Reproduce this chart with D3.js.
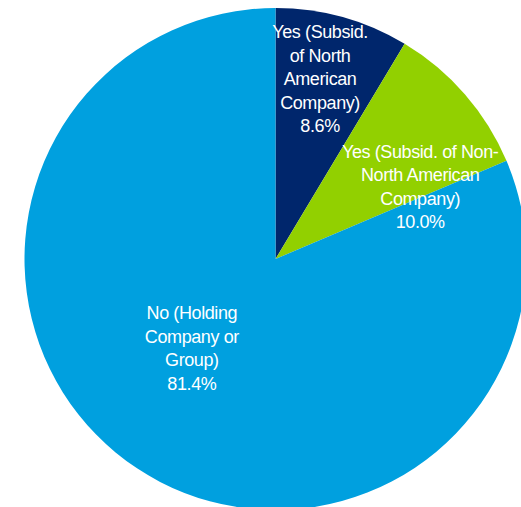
<!DOCTYPE html>
<html>
<head>
<meta charset="utf-8">
<script src="https://cdn.jsdelivr.net/npm/d3@7"></script>
<style>
  html, body { margin: 0; padding: 0; background: #fff; overflow: hidden; }
  svg { display: block; }
  text { font-family: "Liberation Sans", Arial, sans-serif; font-size: 18px; fill: #fff; letter-spacing: -0.4px; }
</style>
</head>
<body>
<svg id="chart" width="521" height="507"></svg>
<script>
// Is the company a subsidiary? — share of respondents
const categories = [
  ["Yes (Subsid.", "of North", "American", "Company)"],
  ["Yes (Subsid. of Non-", "North American", "Company)"],
  ["No (Holding", "Company or", "Group)"]
];
const shares = [8.6, 10.0, 81.4];
const valueLabels = ["8.6%", "10.0%", "81.4%"];
const colors = ["#00266C", "#92D000", "#00A0DF"];

const width = 521, height = 507;
const cx = 275.5, cy = 259, radius = 251;

// label placement: distance from centre (fraction of radius) and angular nudge (degrees)
const labelPlacement = [
  { r: 0.74, dAngle: -1.6 },
  { r: 0.645, dAngle: 14.4 },
  { r: 0.487, dAngle: 9.7 }
];
const lineHeight = 23.6;

const svg = d3.select("#chart");
const g = svg.append("g").attr("transform", `translate(${cx},${cy})`);

const pie = d3.pie().sort(null).value(d => d)(shares);
const arc = d3.arc().innerRadius(0).outerRadius(radius);

g.selectAll("path.slice")
  .data(pie)
  .join("path")
  .attr("class", "slice")
  .attr("d", arc)
  .attr("fill", (d, i) => colors[i]);

const labels = g.selectAll("text.lbl")
  .data(pie)
  .join("text")
  .attr("class", "lbl")
  .attr("text-anchor", "middle")
  .each(function (d, i) {
    const p = labelPlacement[i];
    const a = (d.startAngle + d.endAngle) / 2 + p.dAngle * Math.PI / 180;
    const rr = radius * p.r;
    const x = Math.sin(a) * rr;
    const y = -Math.cos(a) * rr;
    const lines = categories[i].concat([valueLabels[i]]);
    const n = lines.length;
    // vertically centre the block: first baseline offset so cap-top..last baseline is centred
    const capH = 13;
    const blockH = capH + (n - 1) * lineHeight;
    const y0 = y - blockH / 2 + capH;
    const t = d3.select(this);
    lines.forEach((ln, k) => {
      t.append("tspan").attr("x", x).attr("y", y0 + k * lineHeight).text(ln);
    });
  });
</script>
</body>
</html>
